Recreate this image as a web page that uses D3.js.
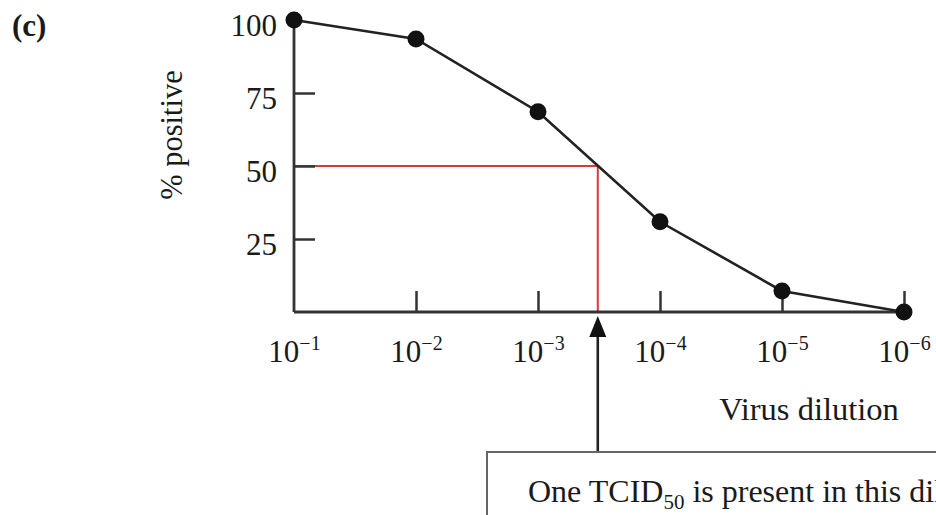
<!DOCTYPE html>
<html>
<head>
<meta charset="utf-8">
<script src="https://cdn.jsdelivr.net/npm/d3@7/dist/d3.min.js"></script>
<style>
  html, body { margin: 0; padding: 0; background: #fff; overflow: hidden; }
  svg { display: block; font-family: "Liberation Serif", "Times New Roman", serif; }
</style>
</head>
<body>
<svg id="chart" width="936" height="515"></svg>
<script>
// ---- data ----
const dilutionExponents = [-1, -2, -3, -4, -5, -6];
const percentPositive = [100, 93.5, 68.6, 30.9, 7.2, 0];
const yTickValues = [25, 50, 75, 100];
const tcid50Exponent = -3.49;
const panelLabel = "(c)";
const yAxisTitle = "% positive";
const xAxisTitle = "Virus dilution";
const calloutParts = ["One TCID", "50", " is present in this dilution"];

// ---- layout ----
const svg = d3.select("#chart");
const textColor = "#1a1a1a";
const axisColor = "#333";

const x = d3.scaleLog().domain([1e-1, 1e-6]).range([294, 904]);
const y = d3.scaleLinear().domain([0, 100]).range([312, 20]);

// panel label
svg.append("text").attr("x", 12).attr("y", 36)
  .attr("font-size", 31).attr("font-weight", "bold").attr("fill", textColor)
  .text(panelLabel);

// y axis title
svg.append("text")
  .attr("transform", "translate(182,135) rotate(-90)")
  .attr("text-anchor", "middle").attr("font-size", 30.5).attr("fill", textColor)
  .text(yAxisTitle);

// red TCID50 guide
const xT = x(Math.pow(10, tcid50Exponent));
svg.append("path")
  .attr("d", `M${x(1e-1)},${y(50)}H${xT}V${y(0)}`)
  .attr("fill", "none").attr("stroke", "#d63a3f").attr("stroke-width", 2);

// x axis
const xAxis = d3.axisBottom(x)
  .tickValues(dilutionExponents.map(e => Math.pow(10, e)))
  .tickSizeInner(-21).tickSizeOuter(0).tickFormat("");
const gx = svg.append("g").attr("transform", `translate(0,${y(0)})`).call(xAxis);
gx.select(".domain").attr("d", `M${x(1e-1)},0H${x(1e-6) + 6}`)
  .attr("stroke", axisColor).attr("stroke-width", 2.8);
gx.selectAll(".tick line").attr("stroke", axisColor).attr("stroke-width", 2.5);
gx.selectAll(".tick").filter(d => d === 1e-1).select("line").remove();
gx.selectAll(".tick").each(function(d, i) {
  const t = d3.select(this).append("text")
    .attr("y", 50).attr("fill", textColor).attr("font-size", 31)
    .attr("text-anchor", "middle").attr("font-family", "Liberation Serif");
  t.append("tspan").text("10");
  t.append("tspan").attr("font-size", 20).attr("dy", -12)
    .text("\u2212" + (-dilutionExponents[i]));
});

// y axis
const yAxis = d3.axisLeft(y).tickValues(yTickValues)
  .tickSizeInner(-21).tickSizeOuter(0).tickFormat("");
const gy = svg.append("g").attr("transform", `translate(${x(1e-1)},0)`).call(yAxis);
gy.select(".domain").attr("d", `M0,${y(100)}V${y(0)}`)
  .attr("stroke", axisColor).attr("stroke-width", 2.8);
gy.selectAll(".tick line").attr("stroke", axisColor).attr("stroke-width", 2.5);
gy.selectAll(".tick").filter(d => d === 100).select("line").remove();
gy.selectAll(".tick").append("text")
  .attr("x", -17).attr("y", 15).attr("text-anchor", "end")
  .attr("font-size", 31).attr("fill", textColor)
  .attr("font-family", "Liberation Serif")
  .text(d => d);

// data line + points
const pts = dilutionExponents.map((e, i) => [Math.pow(10, e), percentPositive[i]]);
svg.append("path")
  .attr("d", d3.line().x(d => x(d[0])).y(d => y(d[1]))(pts))
  .attr("fill", "none").attr("stroke", "#222").attr("stroke-width", 2.6);
svg.selectAll("circle.pt").data(pts).join("circle").attr("class", "pt")
  .attr("cx", d => x(d[0])).attr("cy", d => y(d[1])).attr("r", 8.5)
  .attr("fill", "#111");

// x axis title
svg.append("text").attr("x", 809).attr("y", 420)
  .attr("text-anchor", "middle").attr("font-size", 32.5).attr("fill", textColor)
  .text(xAxisTitle);

// callout arrow
const boxTop = 452;
svg.append("line").attr("x1", xT).attr("x2", xT).attr("y1", boxTop).attr("y2", 334)
  .attr("stroke", "#222").attr("stroke-width", 2.6);
svg.append("path")
  .attr("d", `M${xT},${y(0) + 4}L${xT - 8.5},${y(0) + 25}L${xT + 8.5},${y(0) + 25}Z`)
  .attr("fill", "#111");

// callout box
svg.append("rect").attr("x", 487).attr("y", boxTop).attr("width", 700).attr("height", 200)
  .attr("fill", "#fff").attr("stroke", "#666").attr("stroke-width", 2);
const ct = svg.append("text").attr("x", 528).attr("y", 502)
  .attr("font-size", 32).attr("fill", textColor);
ct.append("tspan").text(calloutParts[0]);
ct.append("tspan").attr("font-size", 21).attr("dy", 7).text(calloutParts[1]);
ct.append("tspan").attr("dy", -7).text(calloutParts[2]);
</script>
</body>
</html>
